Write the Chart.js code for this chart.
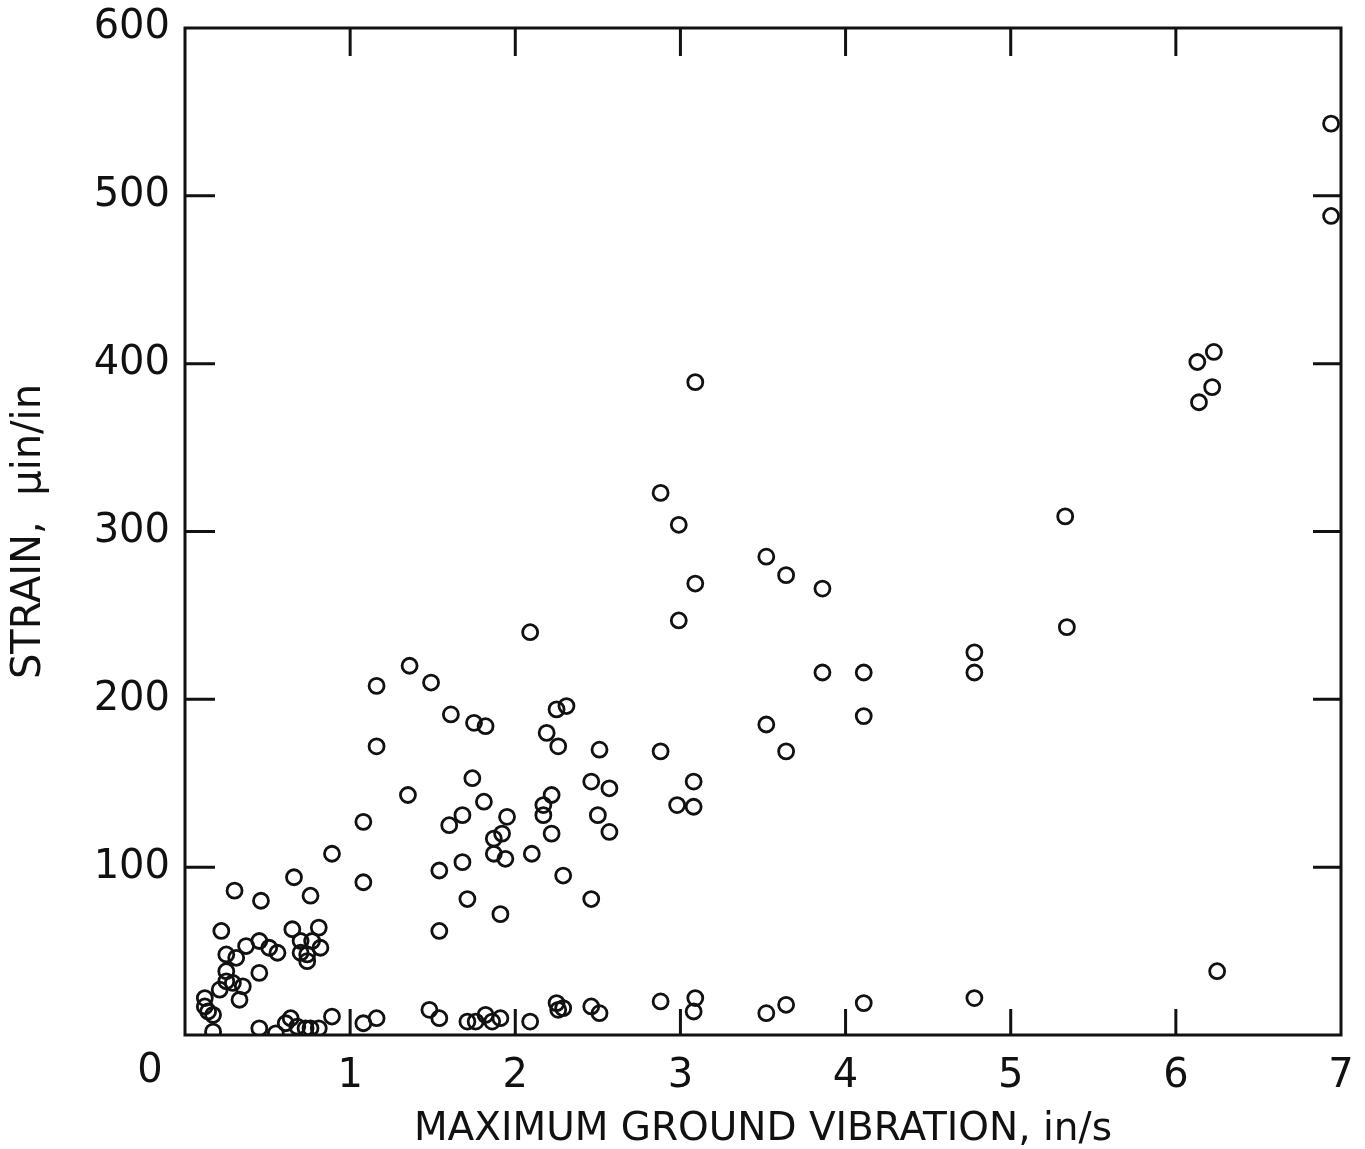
<!DOCTYPE html>
<html>
<head>
<meta charset="utf-8">
<script src="https://cdn.jsdelivr.net/npm/chart.js@4/dist/chart.umd.min.js"></script>
<style>
  html, body { margin: 0; padding: 0; background: #fff; }
  #wrap { width: 1365px; height: 1149px; }
</style>
</head>
<body>
<div id="wrap"><canvas id="chart" width="1365" height="1149"></canvas></div>
<script>
/* strain vs. max ground vibration — open-circle scatter, boxed axes with inward ticks */

// x: maximum ground vibration (in/s), y: strain (µin/in) — paired by index
var vibration = [
  6.94, 6.94, 6.23, 6.13, 6.22, 6.14, 5.33, 5.34, 4.78, 4.78,
  6.25, 4.78, 4.11, 4.11, 4.11, 3.86, 3.86, 3.52, 3.64, 3.52,
  3.64, 3.09, 2.99, 2.88, 2.99, 2.88, 3.08, 2.98, 3.08, 3.09,
  2.88, 3.09, 3.08, 3.52, 3.64,
  2.09, 1.36, 1.16, 1.49, 1.61, 1.75, 1.82, 1.16, 2.25, 2.31,
  2.19, 2.26, 2.51, 1.74, 1.35, 1.81, 1.68, 1.60, 1.95, 1.87,
  1.92, 1.87, 1.94, 2.10, 2.22, 2.17, 2.17, 2.22, 2.46, 2.57,
  2.50, 2.57, 1.68, 1.54, 2.29, 1.71, 2.46, 1.91, 1.54, 1.08,
  1.08, 0.89,
  1.48, 1.54, 1.71, 1.76, 1.82, 1.86, 1.91, 2.09, 2.25, 2.26,
  2.29, 2.46, 2.51,
  0.30, 0.46, 0.66, 0.76, 0.22, 0.65, 0.81, 0.37, 0.45, 0.51,
  0.56, 0.70, 0.77, 0.82, 0.70, 0.74, 0.74, 0.25, 0.31, 0.25,
  0.45, 0.21, 0.25, 0.29, 0.35, 0.33, 0.12, 0.12, 0.14, 0.17,
  0.17, 0.45, 0.55, 0.61, 0.64, 0.68, 0.73, 0.76, 0.81, 0.89,
  1.08, 1.16
];
var strain = [
  543, 488, 407, 401, 386, 377, 309, 243, 228, 216,
  38, 22, 19, 216, 190, 216, 266, 285, 274, 185,
  169, 269, 247, 323, 304, 169, 151, 137, 136, 389,
  20, 22, 14, 13, 18,
  240, 220, 208, 210, 191, 186, 184, 172, 194, 196,
  180, 172, 170, 153, 143, 139, 131, 125, 130, 117,
  120, 108, 105, 108, 143, 137, 131, 120, 151, 147,
  131, 121, 103, 98, 95, 81, 81, 72, 62, 127,
  91, 108,
  15, 10, 8, 8, 12, 8, 10, 8, 19, 15,
  16, 17, 13,
  86, 80, 94, 83, 62, 63, 64, 53, 56, 52,
  49, 56, 56, 52, 49, 48, 44, 48, 46, 38,
  37, 27, 32, 31, 29, 21, 22, 17, 14, 12,
  2, 4, 1, 7, 10, 5, 4, 4, 4, 11,
  7, 10
];

var xTickValues = [1, 2, 3, 4, 5, 6];
var yTickValues = [100, 200, 300, 400, 500];
var originLabel = '0';

var INK = '#111';
var FONT = "'DejaVu Sans', sans-serif";

var points = vibration.map(function (v, i) { return { x: v, y: strain[i] }; });

// box frame, inward ticks on all four sides, and the shared "0" at the corner
var framePlugin = {
  id: 'frame',
  beforeDatasetsDraw: function (chart) {
    var ctx = chart.ctx;
    var a = chart.chartArea;
    var xs = chart.scales.x;
    var ys = chart.scales.y;
    ctx.save();
    ctx.strokeStyle = INK;
    ctx.lineWidth = 3;
    ctx.strokeRect(a.left, a.top, a.right - a.left, a.bottom - a.top);
    ctx.beginPath();
    xTickValues.forEach(function (v) {
      var px = xs.getPixelForValue(v);
      ctx.moveTo(px, a.top); ctx.lineTo(px, a.top + 28);
      ctx.moveTo(px, a.bottom); ctx.lineTo(px, a.bottom - 26);
    });
    yTickValues.forEach(function (v) {
      var py = ys.getPixelForValue(v);
      ctx.moveTo(a.left, py); ctx.lineTo(a.left + 30, py);
      ctx.moveTo(a.right, py); ctx.lineTo(a.right - 28, py);
    });
    ctx.stroke();

    ctx.fillStyle = INK;
    ctx.font = '40px ' + FONT;
    ctx.textAlign = 'center';
    ctx.textBaseline = 'middle';
    ctx.fillText(originLabel, a.left - 35, a.bottom + 37);
    ctx.restore();
  }
};

new Chart(document.getElementById('chart').getContext('2d'), {
  type: 'scatter',
  data: {
    datasets: [{
      data: points,
      pointStyle: 'circle',
      pointRadius: 7.5,
      pointHoverRadius: 7.5,
      borderWidth: 2.8,
      borderColor: INK,
      backgroundColor: 'rgba(0,0,0,0)'
    }]
  },
  options: {
    responsive: false,
    devicePixelRatio: 1,
    animation: false,
    layout: { autoPadding: false, padding: { left: 0, right: 24, top: 28, bottom: 0 } },
    plugins: { legend: { display: false }, tooltip: { enabled: false } },
    scales: {
      x: {
        type: 'linear',
        position: 'bottom',
        min: 0, max: 7,
        grid: { display: false, drawTicks: false },
        border: { display: false },
        ticks: {
          stepSize: 1,
          autoSkip: false,
          maxRotation: 0,
          padding: 18,
          color: INK,
          font: { family: FONT, size: 40 },
          callback: function (v) { return v === 0 ? '' : String(v); }
        },
        title: {
          display: true,
          text: 'MAXIMUM GROUND VIBRATION, in/s',
          color: INK,
          font: { family: FONT, size: 39, lineHeight: 1.0 },
          padding: { top: 0, bottom: 0 }
        },
        afterFit: function (s) {
          s.height = 114;
          s.paddingLeft = 0; s.paddingRight = 0;
        }
      },
      y: {
        type: 'linear',
        min: 0, max: 600,
        grid: { display: false, drawTicks: false },
        border: { display: false },
        ticks: {
          stepSize: 100,
          padding: 15,
          color: INK,
          font: { family: FONT, size: 40 },
          callback: function (v) { return v === 0 ? '' : String(v); }
        },
        title: {
          display: true,
          text: 'STRAIN,  \u03bcin/in',
          color: INK,
          font: { family: FONT, size: 40 },
          padding: { top: 6, bottom: 0 }
        },
        afterFit: function (s) {
          s.width = 185;
          s.paddingTop = 0; s.paddingBottom = 0;
        }
      }
    }
  },
  plugins: [framePlugin]
});
</script>
</body>
</html>
